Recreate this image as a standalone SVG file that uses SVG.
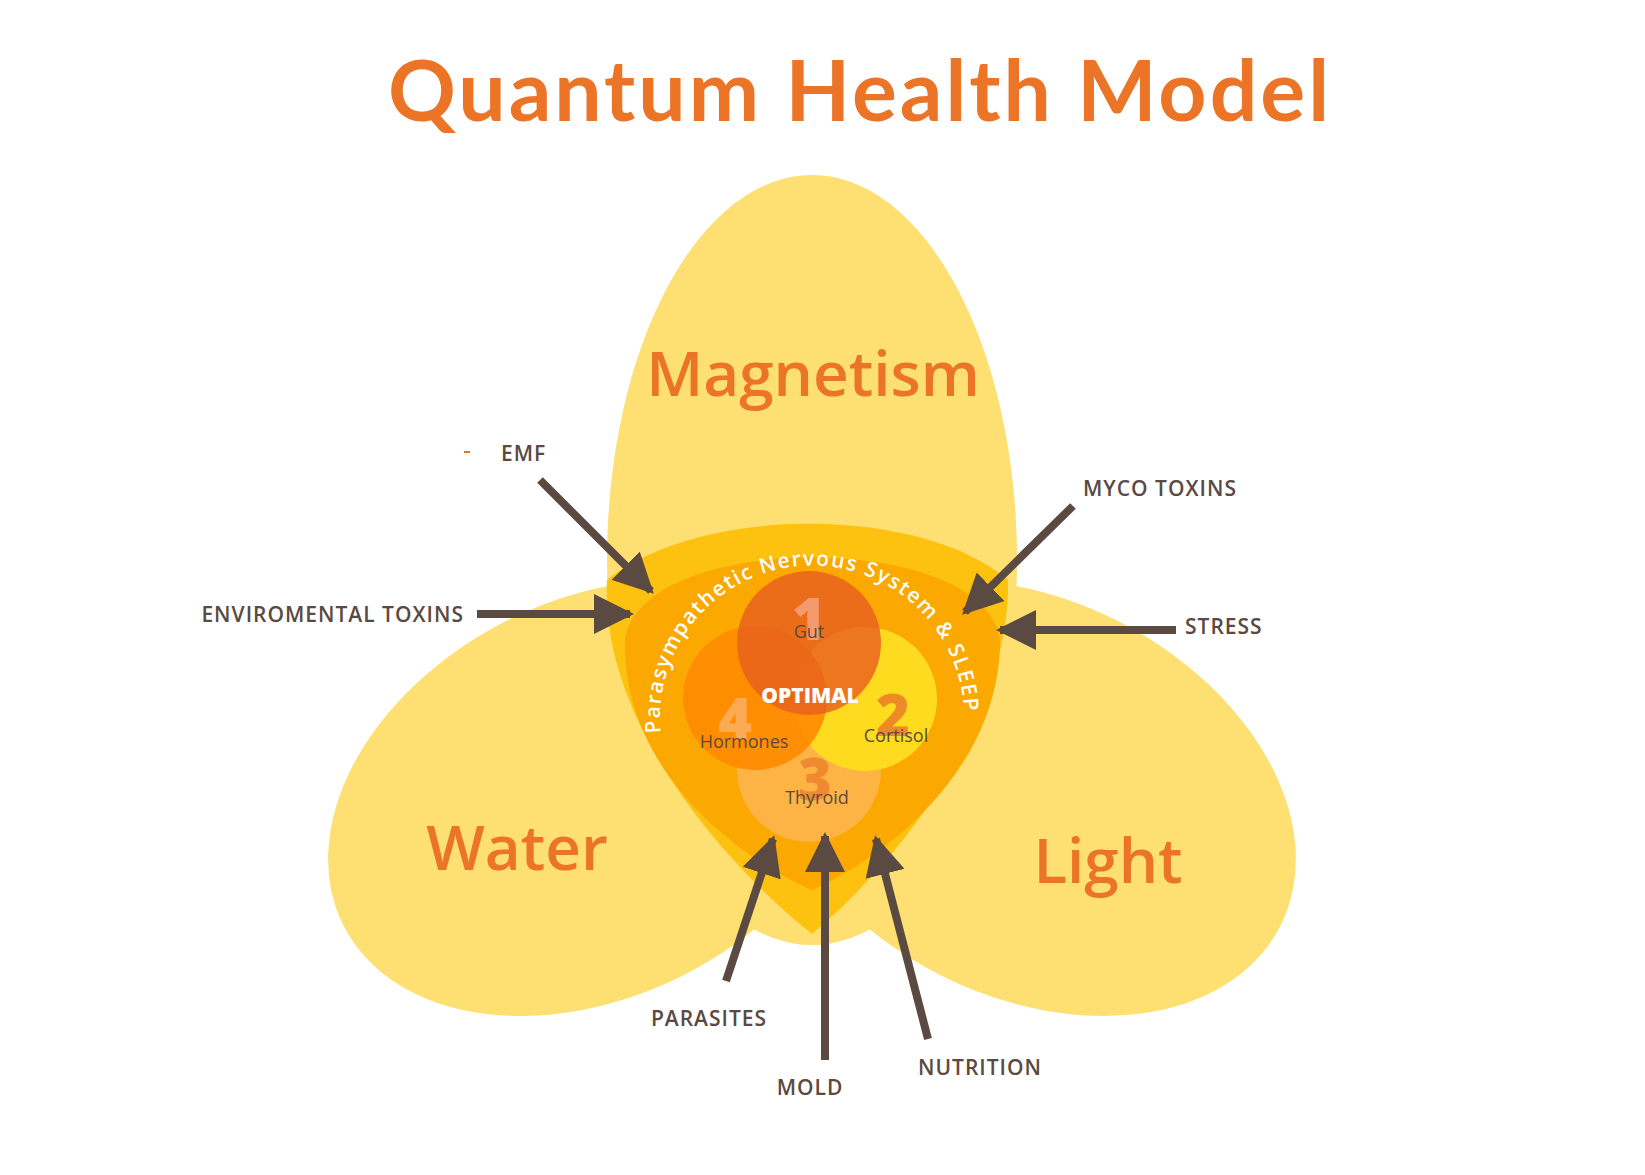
<svg xmlns="http://www.w3.org/2000/svg" width="1645" height="1175" viewBox="0 0 1645 1175">
<defs>
<style>
.petal{fill:#FEDF72}
.lbl{font-family:"Open Sans","Liberation Sans",sans-serif;font-size:21px;fill:#5A4A42;letter-spacing:1px;font-weight:600}
.big{font-family:"Open Sans","Liberation Sans",sans-serif;font-size:62px;fill:#EC7426;font-weight:600;text-anchor:middle}
.num{font-family:"Open Sans","Liberation Sans",sans-serif;font-size:58px;font-weight:800;text-anchor:middle}
.cl{font-family:"Open Sans","Liberation Sans",sans-serif;font-size:18px;fill:#5A4A42;text-anchor:middle}
.arr{stroke:#5A4A42;stroke-width:8;fill:none}
</style>
<marker id="ah" viewBox="0 0 10 10" refX="9" refY="5" markerWidth="5" markerHeight="5" orient="auto" markerUnits="strokeWidth"><path d="M0,0 L10,5 L0,10 Z" fill="#5A4A42"/></marker>
<path id="arc" d="M 661 735 A 152 152 0 1 1 963 735"/>
</defs>
<rect width="1645" height="1175" fill="#fff"/>
<text x="860" y="121" text-anchor="middle" font-family="Lato,'Open Sans','Liberation Sans',sans-serif" font-weight="bold" font-size="84" letter-spacing="3" fill="#EC7426">Quantum Health Model</text>
<g id="petals">
<ellipse class="petal" cx="812" cy="560" rx="205" ry="385"/>
<ellipse class="petal" cx="595" cy="798" rx="282" ry="198" transform="rotate(-27 595 798)"/>
<ellipse class="petal" cx="1029" cy="798" rx="282" ry="198" transform="rotate(27 1029 798)"/>
<text class="big" x="813" y="396">Magnetism</text>
<text class="big" x="517" y="870">Water</text>
<text class="big" x="1108" y="883">Light</text>
</g>
<g id="core">
<path d="M 607 580 C 700 505, 920 505, 1008 580 C 1010 720, 900 860, 812 934 C 720 860, 600 720, 607 580 Z" fill="#FDC10F"/>
<path d="M 625 640 C 640 530, 985 530, 1000 640 C 1000 760, 900 850, 812 890 C 722 850, 622 760, 625 640 Z" fill="#FBA800"/>
<text font-family="'Open Sans','Liberation Sans',sans-serif" font-size="21" font-weight="600" fill="#fff" letter-spacing="1.6"><textPath href="#arc" startOffset="2">Parasympathetic Nervous System &amp; SLEEP</textPath></text>
</g>
<g id="circles">
<circle cx="809" cy="770" r="72" fill="#FDB445"/>
<circle cx="865" cy="699" r="72" fill="#FFDB1F"/>
<circle cx="755" cy="698" r="72" fill="#FF8A00" opacity="0.9"/>
<circle cx="809" cy="643" r="72" fill="#E8601E" opacity="0.82"/>
<text class="num" x="809" y="640" fill="#F29A70">1</text>
<text class="num" x="893" y="736" fill="#EE8A25">2</text>
<text class="num" x="815" y="800" fill="#EE8A30">3</text>
<text class="num" x="735" y="740" fill="#FDAA55">4</text>
<text class="cl" x="809" y="638">Gut</text>
<text class="cl" x="896" y="742">Cortisol</text>
<text class="cl" x="744" y="748">Hormones</text>
<text class="cl" x="817" y="804">Thyroid</text>
<text x="810" y="703" text-anchor="middle" font-family="'Open Sans','Liberation Sans',sans-serif" font-weight="800" font-size="21" fill="#fff">OPTIMAL</text>
</g>
<g id="connectors">
<line class="arr" x1="540" y1="480" x2="651" y2="591" marker-end="url(#ah)"/>
<line class="arr" x1="477" y1="614" x2="630" y2="614" marker-end="url(#ah)"/>
<line class="arr" x1="1073" y1="506" x2="965" y2="612" marker-end="url(#ah)"/>
<line class="arr" x1="1176" y1="630" x2="1000" y2="630" marker-end="url(#ah)"/>
<line class="arr" x1="726" y1="981" x2="773" y2="839" marker-end="url(#ah)"/>
<line class="arr" x1="825" y1="1060" x2="825" y2="836" marker-end="url(#ah)"/>
<line class="arr" x1="928" y1="1039" x2="876" y2="839" marker-end="url(#ah)" stroke-width="10"/>
</g>
<g id="labels">
<path d="M464 452 L470 452" stroke="#EC7426" stroke-width="2"/>
<text class="lbl" x="501" y="461">EMF</text>
<text class="lbl" x="464" y="622" text-anchor="end">ENVIROMENTAL TOXINS</text>
<text class="lbl" x="1083" y="496">MYCO TOXINS</text>
<text class="lbl" x="1185" y="634">STRESS</text>
<text class="lbl" x="709" y="1026" text-anchor="middle">PARASITES</text>
<text class="lbl" x="810" y="1095" text-anchor="middle">MOLD</text>
<text class="lbl" x="918" y="1075">NUTRITION</text>
</g>
</svg>
